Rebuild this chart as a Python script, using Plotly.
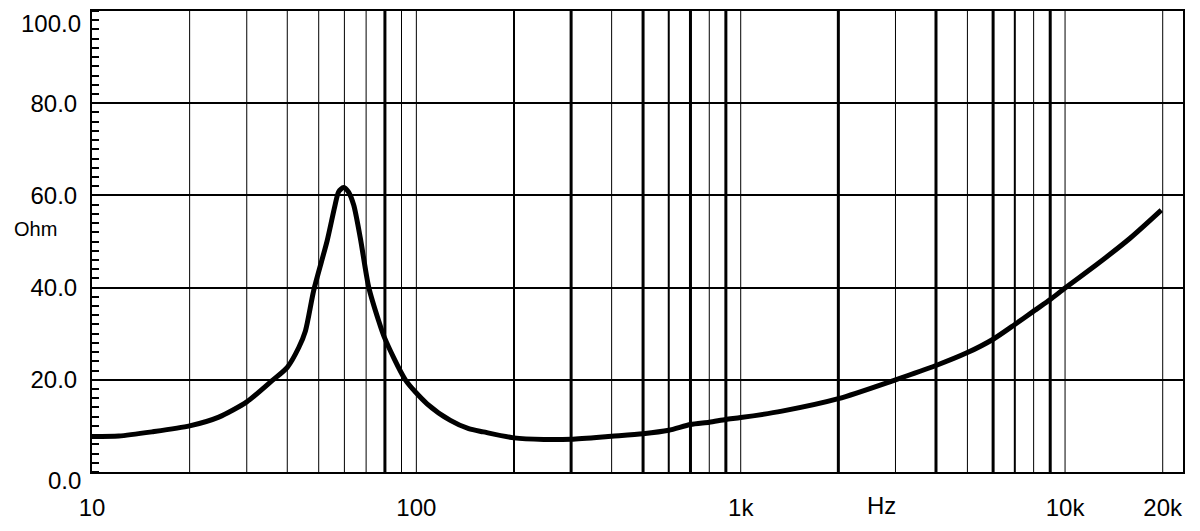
import math
import plotly.graph_objects as go

# impedance curve
freq_hz = [10, 12.1, 15.3, 20, 24.6, 30, 35.9, 40, 43.4, 45.5, 48.3, 53.1, 56, 57.6,
           59.6, 61.7, 64.1, 67.2, 71.3, 76.5, 79.7, 92.5, 107.9, 127.3, 145, 161,
           200, 247, 300, 400, 500, 600, 700, 800, 900, 1000, 1340, 2000, 3000,
           4000, 5000, 6000, 7000, 8000, 9000, 10000, 12520, 15860, 19800]
impedance_ohm = [7.7, 7.8, 8.7, 10.0, 11.9, 15.2, 19.8, 22.7, 27.0, 30.6, 39.5, 50.2, 57.5, 60.8,
                 61.7, 60.8, 57.9, 50.7, 40.1, 32.8, 29.2, 20.0, 14.8, 11.2, 9.4, 8.7,
                 7.4, 7.05, 7.1, 7.76, 8.3, 9.05, 10.3, 10.8, 11.4, 11.8, 13.2, 15.9, 20.0,
                 23.1, 25.9, 28.8, 32.0, 34.9, 37.4, 39.9, 45.0, 50.7, 56.8]

x_tick_vals = [10, 100, 1000, 10000, 20000]
x_tick_text = ["10", "100", "1k", "10k", "20k"]
y_tick_vals = [20, 40, 60, 80]
y_end_labels = [0, 100]

grid_freqs = [20, 30, 40, 50, 60, 70, 80, 90, 100,
              200, 300, 400, 500, 600, 700, 800, 900, 1000,
              2000, 3000, 4000, 5000, 6000, 7000, 8000, 9000, 10000, 20000]

# some of the vertical lines are drawn heavier in the original
heavy = {80: 3, 200: 2, 300: 3, 500: 3, 600: 2, 700: 3, 900: 3,
         2000: 3, 4000: 3, 6000: 3, 7000: 2, 9000: 3}

FONT = "Liberation Sans, Arial, sans-serif"
tfont = dict(family=FONT, size=24, color="black")

fig = go.Figure()

for f in grid_freqs:
    fig.add_shape(type="line", xref="x", yref="paper", x0=f, x1=f, y0=0, y1=1,
                  line=dict(color="black", width=heavy.get(f, 1)), layer="below")

fig.add_trace(go.Scatter(
    x=freq_hz, y=impedance_ohm, mode="lines",
    line=dict(color="black", width=5, shape="spline", smoothing=0.7),
    hoverinfo="x+y", showlegend=False
))

fig.update_xaxes(
    type="log", range=[1, 4.3636],
    tickvals=x_tick_vals, ticktext=x_tick_text,
    showgrid=False, zeroline=False, ticks="",
    showline=True, linecolor="black", linewidth=2, mirror=True,
    ticklabelstandoff=13, ticklabeloverflow="allow",
    tickfont=tfont
)

fig.update_yaxes(
    range=[0, 100], tickvals=y_tick_vals, tickformat=".1f",
    showgrid=True, gridcolor="black", gridwidth=2, zeroline=False, ticks="",
    minor=dict(dtick=2, ticks="inside", ticklen=7, tickcolor="black", tickwidth=1.5, showgrid=False),
    showline=True, linecolor="black", linewidth=2, mirror=True,
    ticklabelstandoff=8,
    tickfont=tfont
)

# end labels of the y axis sit a little inside the frame in the original
for v, shift in zip(y_end_labels, [-8, -12]):
    fig.add_annotation(text=f"{v:.1f}", xref="paper", yref="y", x=0, y=v,
                       xanchor="right", yanchor="middle", xshift=-9, yshift=shift,
                       showarrow=False, font=tfont)

fig.add_annotation(text="Ohm", xref="paper", yref="y", x=0, y=52.7, xshift=-80,
                   showarrow=False, xanchor="left", yanchor="middle",
                   font=dict(family="Liberation Sans Narrow, Liberation Sans, Arial, sans-serif",
                             size=20, color="black"))
fig.add_annotation(text="Hz", xref="x", yref="paper", x=math.log10(2710), y=0, yshift=-33,
                   showarrow=False, xanchor="center", yanchor="middle", font=tfont)

fig.update_layout(
    width=1184, height=515,
    margin=dict(l=83.5, r=9, t=1, b=51),
    paper_bgcolor="white", plot_bgcolor="white",
    font=dict(family=FONT, color="black")
)

fig.write_html("out.html")
